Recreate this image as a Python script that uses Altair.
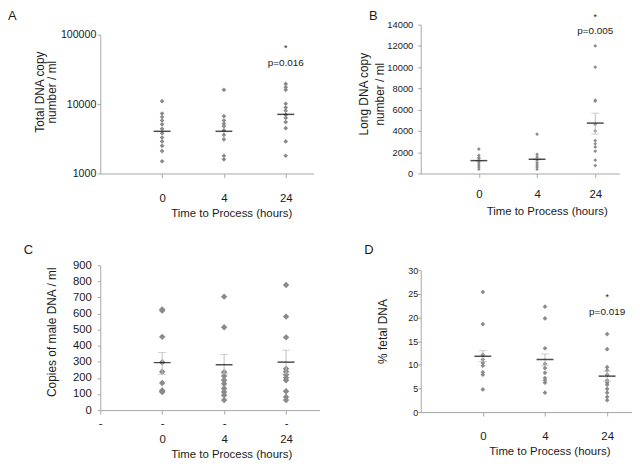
import altair as alt
import pandas as pd

FONT = "Liberation Sans"
TXT = "#1a1a1a"
AX = "#a6a6a6"
DIAMOND = "#8a8a8a"
ERR = "#bdbdbd"

TIMES = ["0", "4", "24"]
XTITLE = "Time to Process (hours)"

# ---- Panel A: total DNA copy number / ml (log scale)
A_T0 = [11000, 7300, 6500, 5800, 5100, 4400, 3800, 3300, 2900, 2500, 2100, 1500]
A_T4 = [16000, 6700, 5800, 5200, 4800, 4200, 3600, 3100, 1800, 1600]
A_T24 = [19500, 17500, 16000, 10100, 8900, 8000, 7000, 6300, 5500, 4500, 2900, 1800]
A_MEAN = [4050, 4050, 7100]
A_NOTE = {"pos": [3], "star": [64100], "p": [39200], "ptext": ["p=0.016"]}

# ---- Panel B: long DNA copy number / ml
B_T0 = [2300, 1700, 1500, 1400, 1200, 1000, 800, 600, 400]
B_T4 = [3700, 1800, 1550, 1250, 1000, 800, 600, 400]
B_T24 = [12000, 10000, 6900, 6800, 4600, 4000, 3100, 2800, 2500, 2100, 1250, 750]
B_MEAN = [1210, 1340, 4740]
B_LO = [1210, 1340, 3710]
B_HI = [1210, 1340, 5670]
B_NOTE = {"pos": [3], "star": [14700], "p": [13390], "ptext": ["p=0.005"]}

# ---- Panel C: copies of male DNA / ml
C_T0 = [625, 618, 455, 297, 238, 168, 122, 118, 112]
C_T4 = [705, 515, 236, 212, 185, 164, 134, 113, 92, 62]
C_T24 = [777, 581, 452, 257, 240, 220, 201, 185, 117, 82, 62]
C_MEAN = [295, 282, 298]
C_LO = [222, 226, 226]
C_HI = [358, 345, 372]

# ---- Panel D: % fetal DNA
D_T0 = [25.4, 18.6, 12.1, 11.1, 10.4, 9.8, 8.4, 7.9, 4.8]
D_T4 = [22.3, 19.8, 13.5, 10.2, 9.3, 8.3, 7.2, 6.7, 6.2, 4.1]
D_T24 = [16.5, 13.3, 9.5, 8.8, 7.9, 6.7, 6.2, 5.8, 4.9, 4.1, 3.2, 2.5]
D_MEAN = [11.8, 11.1, 7.6]
D_LO = [10.7, 9.8, 6.5]
D_HI = [13.0, 12.3, 8.7]
D_NOTE = {"pos": [3], "star": [24.3], "p": [21.1], "ptext": ["p=0.019"]}

CAT_EXPR = "datum.value == 1 ? '0' : datum.value == 2 ? '4' : '24'"


def xaxis(label_pad, title_y, title_x, values=(1, 2, 3), expr=CAT_EXPR,
          baseline="middle", line_h=None):
    kw = {}
    if line_h is not None:
        kw["labelLineHeight"] = line_h
    return alt.Axis(values=list(values), labelExpr=expr, title=XTITLE,
                    grid=False, tickSize=4, labelPadding=label_pad,
                    labelBaseline=baseline, labelFlush=False, labelOverlap=False,
                    labelFontSize=11.5, labelFont=FONT, labelColor=TXT,
                    titleFontSize=11.5, titleFont=FONT, titleColor=TXT,
                    titleFontWeight="normal", titleX=title_x, titleY=title_y,
                    titleBaseline="middle", titleAlign="center",
                    domainColor=AX, tickColor=AX, **kw)


def yaxis(title, values, label_size, tick, pad, tx, ty, line_h=12, fmt=None):
    kw = {}
    if fmt:
        kw["format"] = fmt
    return alt.Axis(values=values, title=title, grid=False, tickSize=tick,
                    labelPadding=pad, labelFontSize=label_size, labelFont=FONT,
                    labelColor=TXT, labelOverlap=False, titleFontSize=12,
                    titleFont=FONT, titleColor=TXT, titleFontWeight="normal",
                    titleX=tx, titleY=ty, titleAngle=270, titleAlign="center",
                    titleBaseline="middle", titleLineHeight=line_h,
                    domainColor=AX, tickColor=AX, **kw)


def panel(groups, means, lo, hi, yscale, yax, xmax, width, height, xax, size,
          letter, lx, ly, note=None):
    xs = alt.Scale(domain=[0, xmax], nice=False, zero=False)

    def X():
        return alt.X("pos:Q", scale=xs, axis=xax)

    def Y(f):
        return alt.Y(f + ":Q", scale=yscale, axis=yax)

    pdf = pd.DataFrame([{"pos": i + 1, "v": v}
                        for i, g in enumerate(groups) for v in g])
    layers = [alt.Chart(pdf).mark_point(shape="diamond", filled=True,
                                        color=DIAMOND, opacity=1, size=size)
              .encode(x=X(), y=Y("v"))]
    mdf = pd.DataFrame({"pos": [1, 2, 3], "mean": means})
    if lo is not None:
        mdf["lo"] = lo
        mdf["hi"] = hi
        layers.append(alt.Chart(mdf).mark_rule(color=ERR, strokeWidth=1)
                      .encode(x=X(), y=Y("lo"), y2="hi:Q"))
        for f in ("lo", "hi"):
            layers.append(alt.Chart(mdf).mark_tick(orient="horizontal", size=8,
                                                   thickness=1, color=ERR)
                          .encode(x=X(), y=Y(f)))
    layers.append(alt.Chart(mdf).mark_tick(orient="horizontal", size=17,
                                           thickness=1.5, color="black")
                  .encode(x=X(), y=Y("mean")))
    if note is not None:
        ndf = pd.DataFrame(note)
        ndf["s"] = "*"
        layers.append(alt.Chart(ndf).mark_text(fontSize=9, font=FONT, color=TXT,
                                               baseline="middle")
                      .encode(x=X(), y=Y("star"), text="s:N"))
        layers.append(alt.Chart(ndf).mark_text(fontSize=10, font=FONT, color=TXT,
                                               baseline="middle")
                      .encode(x=X(), y=Y("p"), text="ptext:N"))
    ldf = pd.DataFrame({"t": [letter]})
    layers.append(alt.Chart(ldf).mark_text(fontSize=13, font=FONT, color=TXT,
                                           align="left", baseline="top")
                  .encode(x=alt.value(lx), y=alt.value(ly), text="t:N"))
    return alt.layer(*layers).properties(width=width, height=height)


pA = panel([A_T0, A_T4, A_T24], A_MEAN, None, None,
           alt.Scale(type="log", domain=[1000, 100000], range=[150, 10], nice=False),
           yaxis(["Total DNA copy", "number  / ml"], [1000, 10000, 100000], 10.7,
                 3, 1.5, -61, 67.5, line_h=12, fmt="d"),
           3.45, 215, 150, xaxis(21, 40, 132), 22, "A", -93, -14.5, A_NOTE)

pB = panel([B_T0, B_T4, B_T24], B_MEAN, B_LO, B_HI,
           alt.Scale(domain=[0, 14000], nice=False),
           yaxis(["Long DNA copy", "number / ml"], list(range(0, 14001, 2000)), 9.4,
                 3, 5, -57.5, 69.5, line_h=16, fmt="d"),
           3.41, 200, 150, xaxis(17, 38, 127), 14, "B", -52, -14.5, B_NOTE)

pC = panel([C_T0, C_T4, C_T24], C_MEAN, C_LO, C_HI,
           alt.Scale(domain=[0, 900], nice=False),
           yaxis("Copies of male DNA  / ml", list(range(0, 901, 100)), 11.4,
                 3, 6, -49.3, 67),
           3.54, 221, 146,
           xaxis(3.4, 45, 132, values=(0, 1, 2, 3),
                 expr="datum.value == 0 ? '-' : datum.value == 1 ? ['-', '0'] : "
                      "datum.value == 2 ? ['-', '4'] : ['-', '24']",
                 baseline="top", line_h=16),
           42, "C", -77, -21)

pD = panel([D_T0, D_T4, D_T24], D_MEAN, D_LO, D_HI,
           alt.Scale(domain=[0, 30], range=[148, 5], nice=False),
           yaxis("% fetal DNA", list(range(0, 31, 5)), 9, 3, 0, -38.3, 66.3),
           3.40, 213, 148, xaxis(21, 40, 129.7), 22, "D", -57, -21, D_NOTE)

chart = alt.concat(pA, pB, pC, pD, columns=2, bounds="flush",
                   spacing={"row": 92.5, "column": 102}).properties(
    padding=0, background="white").configure_view(stroke=None)

chart.save("out.html", embed_options={"renderer": "svg", "actions": False})
